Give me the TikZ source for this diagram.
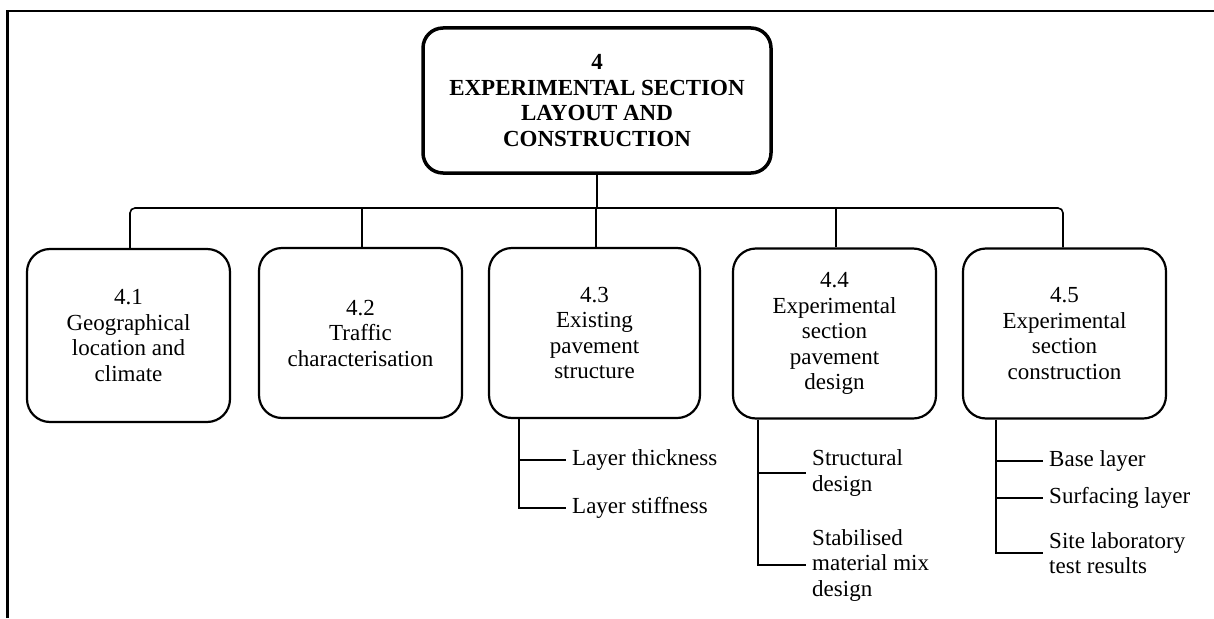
\documentclass[tikz,border=0pt]{standalone}
\usepackage{fontspec}
\setmainfont{Liberation Serif}
\begin{document}
\begin{tikzpicture}[x=1pt,y=-1pt,
  txt/.style={font=\fontsize{23}{25.5}\selectfont},
  topbox/.style={draw,line width=3.5pt,rounded corners=20pt,minimum width=348pt,
    minimum height=145pt,align=center,inner sep=0pt,font=\fontsize{23}{25.5}\selectfont\bfseries},
  secbox/.style={draw,line width=2.2pt,rounded corners=23pt,minimum width=203pt,
    minimum height=170pt,align=center,inner sep=0pt,txt},
  item/.style={anchor=west,align=left,inner xsep=6pt,inner ysep=0pt,txt},
  link/.style={line width=1.6pt},
  sublink/.style={line width=2pt},
]
\useasboundingbox (0,0) rectangle (1214,618);

% page frame (top and left rules)
\draw[line width=2.8pt] (7.5,618) -- (7.5,11) -- (1214,11);

% chapter box
\node[topbox] (top) at (597,100.5) {4\\EXPERIMENTAL SECTION\\LAYOUT AND\\CONSTRUCTION};

% section boxes
\node[secbox,minimum height=173pt] (b41) at (128.5,335.5) {4.1\\Geographical\\location and\\climate};
\node[secbox] (b42) at (360.5,333) {4.2\\Traffic\\characterisation};
\node[secbox,minimum width=211pt] (b43) at (594.5,333) {4.3\\Existing\\pavement\\structure};
\node[secbox] (b44) at (834.5,333.5) {4.4\\Experimental\\section\\pavement\\design};
\node[secbox] (b45) at (1064.5,333.5) {4.5\\Experimental\\section\\construction};

% tree from chapter to sections
\coordinate (bar) at (597,208);
\draw[link] (top.south) -- (bar);
\draw[link,rounded corners=5pt] ([xshift=1.5pt]b41.north) |- (bar) -| ([xshift=-1.5pt]b45.north);
\draw[link] ([xshift=1.5pt]b42.north) -- ([xshift=1.5pt]b42.north |- bar);
\draw[link] ([xshift=1.5pt]b43.north) -- ([xshift=1.5pt]b43.north |- bar);
\draw[link] ([xshift=1.5pt]b44.north) -- ([xshift=1.5pt]b44.north |- bar);

% sub-items
\node[item] (i1) at (566,460) {Layer thickness};
\node[item] (i2) at (566,508) {Layer stiffness};
\node[item] (i3) at (806,473) {Structural\\design};
\node[item] (i4) at (806,565) {Stabilised\\material mix\\design};
\node[item] (i5) at (1043,461) {Base layer};
\node[item] (i6) at (1043,498) {Surfacing layer};
\node[item] (i7) at (1043,553) {Site laboratory\\test results};

\coordinate (s43) at ([xshift=31pt]b43.south west);
\coordinate (s44) at ([xshift=26pt]b44.south west);
\coordinate (s45) at ([xshift=34pt]b45.south west);

\draw[sublink] (s43) |- (i2.west);
\draw[sublink] (s43 |- i1.west) -- (i1.west);
\draw[sublink] (s44) |- (i4.west);
\draw[sublink] (s44 |- i3.west) -- (i3.west);
\draw[sublink] (s45) |- (i7.west);
\draw[sublink] (s45 |- i5.west) -- (i5.west);
\draw[sublink] (s45 |- i6.west) -- (i6.west);
\end{tikzpicture}
\end{document}
